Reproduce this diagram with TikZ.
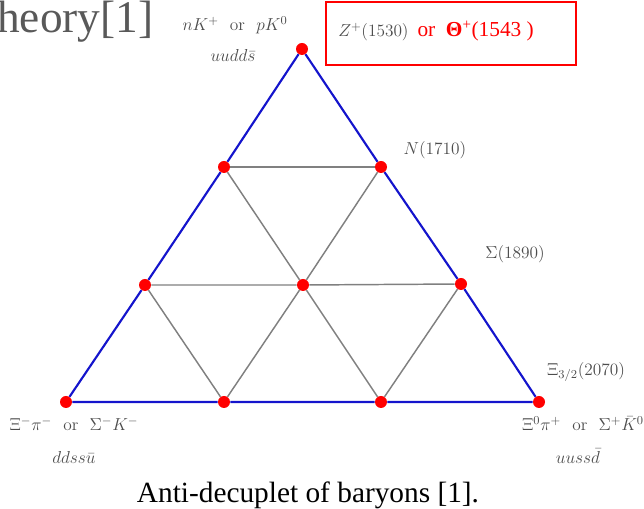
\documentclass[tikz,border=0pt]{standalone}
\usepackage{fix-cm}
\usepackage[no-math]{fontspec}
\newfontfamily\capfont{Liberation Serif}
\usetikzlibrary{positioning}
\definecolor{triblue}{rgb}{0.08,0.08,0.8}
\definecolor{labgray}{gray}{0.3}

\begin{document}
\begin{tikzpicture}[x=0.75pt, y=-0.75pt,
    dot/.style={circle, fill=red, inner sep=0pt, minimum size=9pt},
    triline/.style={triblue, line width=1.6pt},
    mesh/.style={black!50, line width=1.1pt},
    lbl/.style={text=labgray, font=\fontsize{13}{15}\selectfont, inner sep=0pt}
]
    \useasboundingbox (0,0) rectangle (644,509);
    \node[anchor=base west, inner sep=0pt, text=black!65, font=\capfont\fontsize{34}{40}\selectfont] (title) at (-3,33) {heory[1]};
    % weight points
    \node[dot] (top) at (302,49) {};
    \node[dot] (nuc) at (381,167) {};
    \node[dot] (sig) at (461,284) {};
    \node[dot] (right) at (539,402) {};
    \node[dot] (bot2) at (381,402) {};
    \node[dot] (bot1) at (224,402) {};
    \node[dot] (left) at (66,402) {};
    \node[dot] (lft1) at (145,285) {};
    \node[dot] (lft2) at (224,167) {};
    \node[dot] (mid) at (303,285) {};
    \draw[triline] (top) -- (nuc) -- (sig) -- (right) -- (bot2) -- (bot1) -- (left) -- (lft1) -- (lft2) -- (top);
    \draw[mesh] (lft2) -- (nuc);
    \draw[mesh] (lft1) -- (mid) -- (sig);
    \draw[mesh] (lft2) -- (mid) -- (bot2);
    \draw[mesh] (nuc) -- (mid) -- (bot1);
    \draw[mesh] (lft1) -- (bot1);
    \draw[mesh] (sig) -- (bot2);
    % labels
    \node[lbl] (topa) at (235,25) {$nK^+$~~or~~$pK^0$};
    \node[lbl] (topb) at (233,55) {$uudd\bar{s}$};
    \node[lbl] (nlab) at (435,150) {$N(1710)$};
    \node[lbl] (slab) at (515,254) {$\Sigma(1890)$};
    \node[lbl] (xlab) at (586,372) {$\Xi_{3/2}(2070)$};
    \node[lbl] (rgta) at (583,424) {$\Xi^0\pi^+$~~or~~$\Sigma^+\bar{K}^0$};
    \node[lbl] (rgtb) at (578,456) {$uuss\bar{d}$};
    \node[lbl] (lfta) at (74,424) {$\Xi^-\pi^-$~~or~~$\Sigma^-K^-$};
    \node[lbl] (lftb) at (74,457) {$ddss\bar{u}$};
    % pentaquark box
    \node[draw=red, line width=1.1pt, minimum width=187.5pt, minimum height=47pt] (zbox) at (451,33.5) {};
    \node[anchor=base west, inner sep=0pt] (ztxt) at (338,37) {{\color{labgray}\fontsize{13}{15}\selectfont$Z^+(1530)$}\ \ {\capfont\color{red}\fontsize{16}{18}\selectfont or\ \ \textbf{Θ}\textsuperscript{+}(1543 )}};
    \node[anchor=base, inner sep=0pt, font=\capfont\fontsize{22}{26}\selectfont] (capt) at (308,503) {Anti-decuplet of baryons [1].};
\end{tikzpicture}
\end{document}
